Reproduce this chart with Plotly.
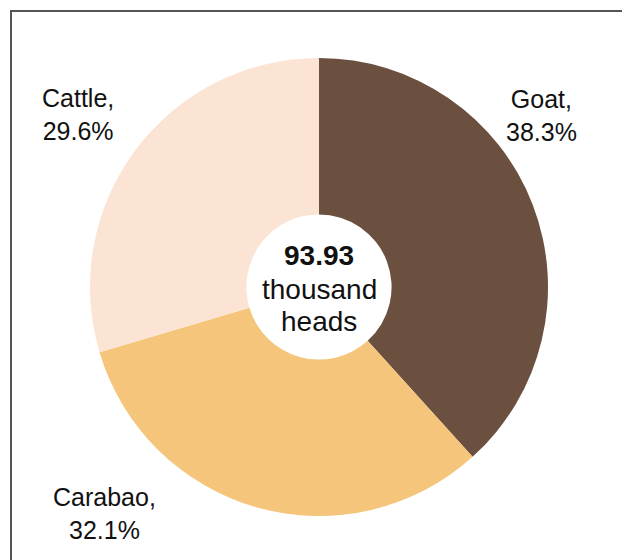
import plotly.graph_objects as go

categories = ["Goat", "Carabao", "Cattle"]
shares = [38.3, 32.1, 29.6]
colors = ["#6B4F3F", "#F4C57A", "#FCE4D4"]
total_value = "93.93"
total_unit_lines = ["thousand", "heads"]

W, H = 630, 560
OFF = 8  # page body margin
cx, cy, r = 319 - OFF, 287 - OFF, 229

fig = go.Figure(go.Pie(
    labels=categories, values=shares, sort=False, direction="clockwise", rotation=0,
    hole=0.317, marker=dict(colors=colors, line=dict(width=0)),
    textinfo="none", hoverinfo="label+percent", showlegend=False,
    domain=dict(x=[(cx - r) / W, (cx + r) / W], y=[(H - cy - r) / H, (H - cy + r) / H]),
))

FONT = "Liberation Sans, Arial"
label_pos = {"Goat": (541, 116), "Carabao": (104, 513), "Cattle": (78, 114)}
for c, s in zip(categories, shares):
    x, y = label_pos[c]
    fig.add_annotation(x=(x - OFF) / W, y=1 - (y - OFF) / H, xref="paper", yref="paper",
                       xanchor="center", yanchor="middle",
                       text=f"{c},<br>{s}%", showarrow=False,
                       font=dict(size=25, color="#111", family=FONT),
                       align="center")

center_lines = [f"<b>{total_value}</b>"] + total_unit_lines
center_y = [255, 289, 321]
for t, y in zip(center_lines, center_y):
    fig.add_annotation(x=cx / W, y=1 - (y - OFF) / H, xref="paper", yref="paper",
                       xanchor="center", yanchor="middle",
                       text=t, showarrow=False,
                       font=dict(size=28, color="#111", family=FONT))

fig.add_shape(type="rect", xref="paper", yref="paper",
              x0=(11 - OFF) / W, x1=1.05, y0=-0.05, y1=1 - (11 - OFF) / H,
              line=dict(color="#555", width=2), fillcolor="rgba(0,0,0,0)", layer="above")

fig.update_layout(width=W, height=H, margin=dict(l=0, r=0, t=0, b=0),
                  paper_bgcolor="white", plot_bgcolor="white")
fig.write_html("out.html")
